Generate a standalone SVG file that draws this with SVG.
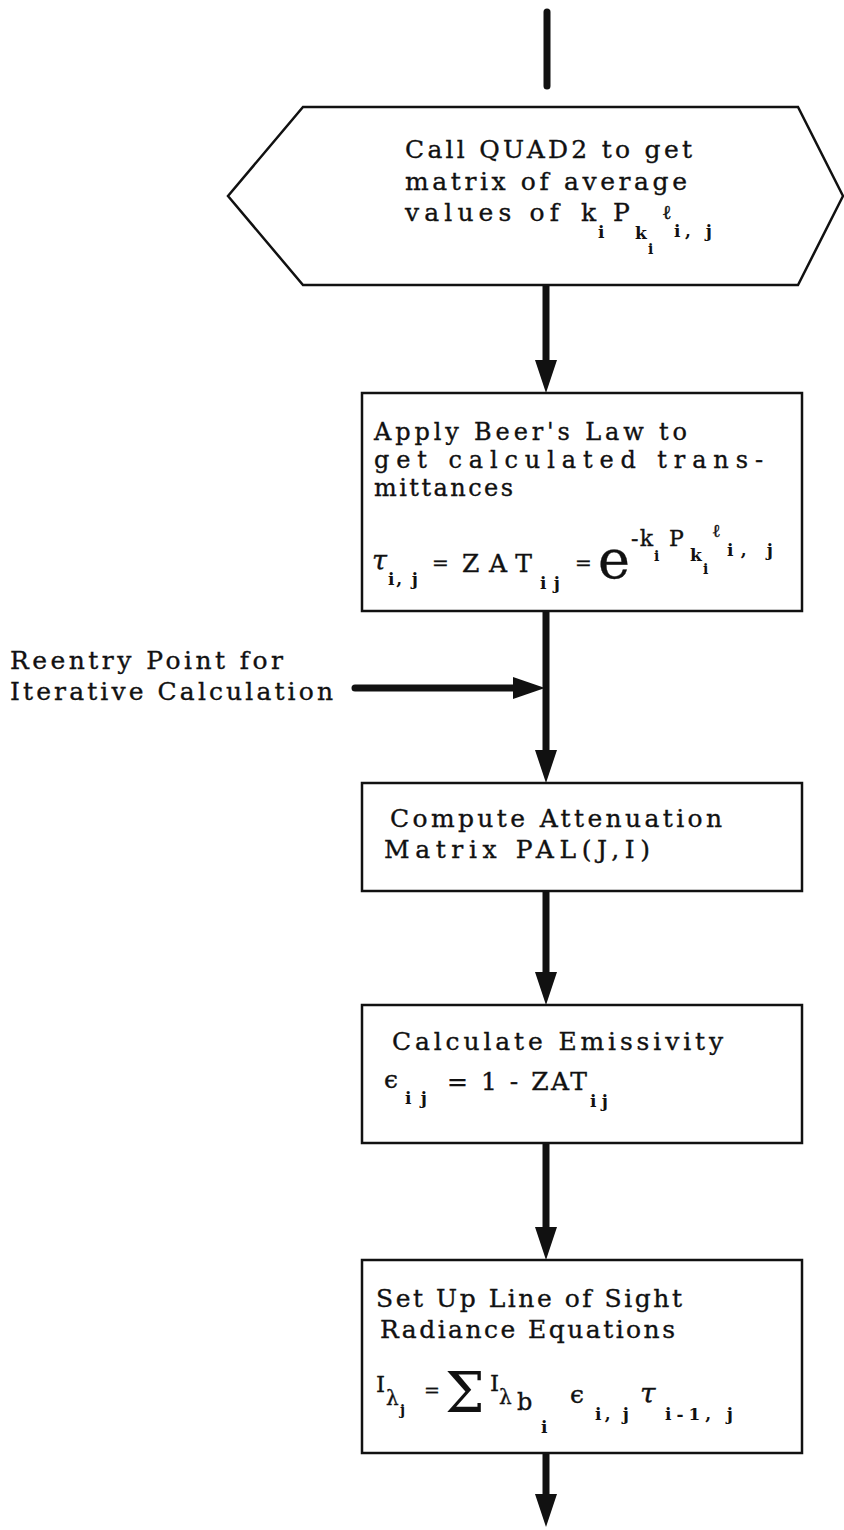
<svg xmlns="http://www.w3.org/2000/svg" width="844" height="1530" viewBox="0 0 844 1530">
<defs>
<style>
.t{font-family:"DejaVu Serif","Liberation Serif",serif;font-size:25px;fill:#111;stroke:#111;stroke-width:0.35}
.b1{font-size:24px}
.s{font-family:"DejaVu Serif","Liberation Serif",serif;font-size:17px;font-weight:bold;fill:#111}
.ss{font-family:"DejaVu Serif","Liberation Serif",serif;font-size:14px;font-weight:bold;fill:#111}
.box{fill:#fff;stroke:#111;stroke-width:2.5}
.conn{stroke:#111;stroke-width:7;fill:none}
.head{fill:#111}
</style>
</defs>
<rect width="844" height="1530" fill="#fff"/>
<g id="connectors">
<line class="conn" x1="547" y1="12" x2="547" y2="86" stroke-linecap="round"/>
<line class="conn" x1="546" y1="285" x2="546" y2="365"/>
<polygon class="head" points="535,360 557,360 546,393"/>
<line class="conn" x1="546" y1="611" x2="546" y2="755"/>
<polygon class="head" points="535,750 557,750 546,783"/>
<line class="conn" x1="355" y1="688" x2="516" y2="688" stroke-linecap="round"/>
<polygon class="head" points="513,677 513,699 545,688"/>
<line class="conn" x1="546" y1="891" x2="546" y2="977"/>
<polygon class="head" points="535,972 557,972 546,1005"/>
<line class="conn" x1="546" y1="1143" x2="546" y2="1232"/>
<polygon class="head" points="535,1227 557,1227 546,1260"/>
<line class="conn" x1="546" y1="1453" x2="546" y2="1499"/>
<polygon class="head" points="535,1494 557,1494 546,1527"/>
</g>
<g id="reentry-label">
<text class="t" x="10" y="669" textLength="273" lengthAdjust="spacing">Reentry Point for</text>
<text class="t" x="10" y="700" textLength="323" lengthAdjust="spacing">Iterative Calculation</text>
</g>
<g id="node-quad2">
<polygon class="box" points="303,107 798,107 843,196 798,285 303,285 228,196"/>
<text class="t" x="405" y="158" textLength="287" lengthAdjust="spacing">Call QUAD2 to get</text>
<text class="t" x="405" y="190" textLength="282" lengthAdjust="spacing">matrix of average</text>
<text class="t" x="405" y="221" textLength="154" lengthAdjust="spacing">values of</text>
<text class="t" x="581" y="221">k</text>
<text class="s" x="598" y="238">i</text>
<text class="t" x="613" y="221">P</text>
<text class="s" x="635" y="239">k</text>
<text class="ss" x="648" y="254">i</text>
<text class="t" x="662" y="219" style="font-size:20px">ℓ</text>
<text class="s" x="674" y="237" textLength="38" lengthAdjust="spacing">i, j</text>
</g>
<g id="node-beer">
<rect class="box" x="362" y="393" width="440" height="218"/>
<text class="t b1" x="374" y="440" textLength="313" lengthAdjust="spacing">Apply Beer's Law to</text>
<text class="t b1" x="374" y="468" textLength="389" lengthAdjust="spacing">get calculated trans-</text>
<text class="t b1" x="374" y="496" textLength="139" lengthAdjust="spacing">mittances</text>
<text class="t" x="372" y="570" style="font-size:27px;font-style:italic">τ</text>
<text class="s" x="388" y="585" textLength="30" lengthAdjust="spacing">i, j</text>
<text class="t" x="432" y="570" style="font-size:20px">=</text>
<text class="t" x="462" y="572" textLength="70" lengthAdjust="spacing">ZAT</text>
<text class="s" x="540" y="589" textLength="20" lengthAdjust="spacing">ij</text>
<text class="t" x="575" y="570" style="font-size:20px">=</text>
<text class="t" x="598" y="578" style="font-size:54px">e</text>
<text class="t" x="631" y="546" style="font-size:22px" textLength="22" lengthAdjust="spacing">-k</text>
<text class="ss" x="654" y="561">i</text>
<text class="t" x="669" y="546" style="font-size:22px">P</text>
<text class="s" x="690" y="561">k</text>
<text class="ss" x="703" y="574">i</text>
<text class="t" x="712" y="537" style="font-size:18px">ℓ</text>
<text class="s" x="727" y="556" textLength="46" lengthAdjust="spacing">i, j</text>
</g>
<g id="node-attenuation">
<rect class="box" x="362" y="783" width="440" height="108"/>
<text class="t" x="390" y="827" textLength="332" lengthAdjust="spacing">Compute Attenuation</text>
<text class="t" x="384" y="858" textLength="266" lengthAdjust="spacing">Matrix PAL(J,I)</text>
</g>
<g id="node-emissivity">
<rect class="box" x="362" y="1005" width="440" height="138"/>
<text class="t" x="392" y="1050" textLength="331" lengthAdjust="spacing">Calculate Emissivity</text>
<text class="t" x="384" y="1088">ϵ</text>
<text class="s" x="405" y="1104" textLength="22" lengthAdjust="spacing">ij</text>
<text class="t" x="447" y="1090" textLength="140" lengthAdjust="spacing">= 1 - ZAT</text>
<text class="s" x="590" y="1107" textLength="18" lengthAdjust="spacing">ij</text>
</g>
<g id="node-radiance">
<rect class="box" x="362" y="1260" width="440" height="193"/>
<text class="t" x="376" y="1307" textLength="306" lengthAdjust="spacing">Set Up Line of Sight</text>
<text class="t" x="380" y="1338" textLength="295" lengthAdjust="spacing">Radiance Equations</text>
<text class="t" x="376" y="1392" style="font-size:23px">I</text>
<text class="t" x="386" y="1405" style="font-size:20px">λ</text>
<text class="ss" x="400" y="1415">j</text>
<text class="t" x="424" y="1397" style="font-size:19px">=</text>
<text class="t" x="445" y="1412" style="font-size:56px;stroke-width:0">Σ</text>
<text class="t" x="490" y="1391" style="font-size:23px">I</text>
<text class="t" x="499" y="1404" style="font-size:20px">λ</text>
<text class="t" x="517" y="1410" style="font-size:24px">b</text>
<text class="s" x="541" y="1433">i</text>
<text class="t" x="570" y="1403">ϵ</text>
<text class="s" x="595" y="1420" textLength="34" lengthAdjust="spacing">i, j</text>
<text class="t" x="640" y="1403" style="font-size:28px;font-style:italic">τ</text>
<text class="s" x="665" y="1420" textLength="68" lengthAdjust="spacing">i-1, j</text>
</g>
</svg>
